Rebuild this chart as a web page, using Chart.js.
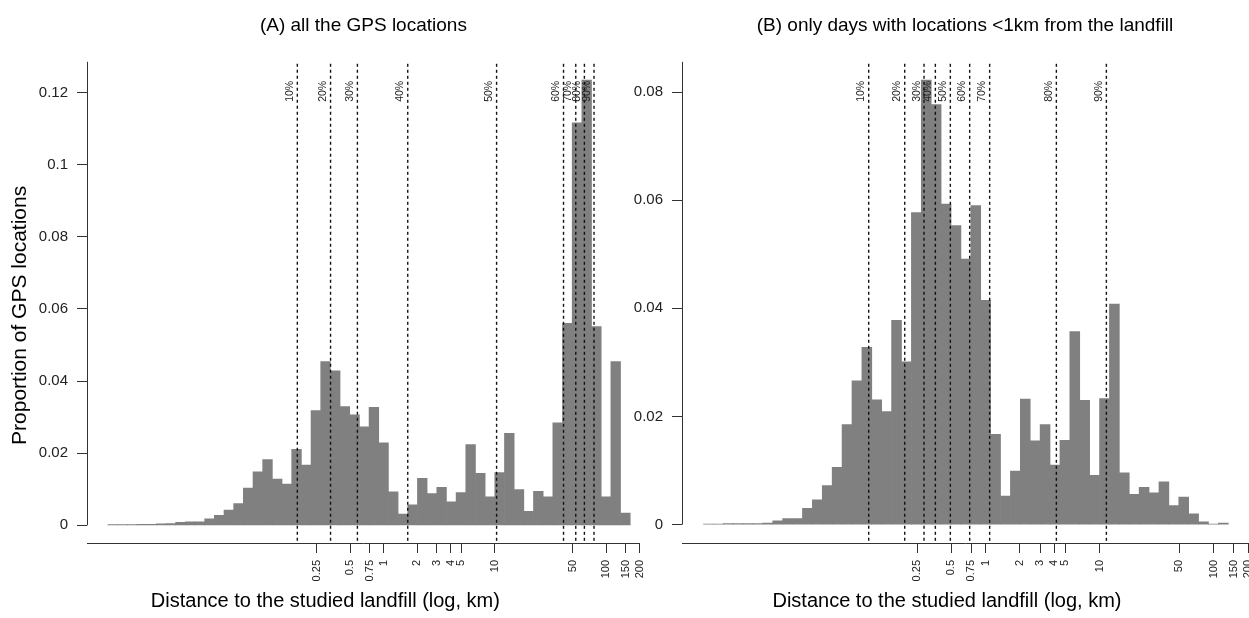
<!DOCTYPE html>
<html>
<head>
<meta charset="utf-8">
<script src="https://cdn.jsdelivr.net/npm/chart.js@4.4.1/dist/chart.umd.min.js"></script>
<style>
  html, body { margin: 0; padding: 0; background: #fff; overflow: hidden; }
  body { width: 1249px; height: 618px; position: relative; }
  .panel { position: absolute; top: 0; }
  #chartA { left: 0; }
  #chartB { left: 600px; }
</style>
</head>
<body>
<canvas id="chartA" class="panel" width="660" height="618"></canvas>
<canvas id="chartB" class="panel" width="714" height="618"></canvas>
<script>
const FONT = '"Liberation Sans", Arial, Helvetica, sans-serif';

// histogram breaks: bins of 0.2 in ln(km), first break at ln = -5.7
const binStartLn = -5.7;
const binWidthLn = 0.2;

// (A) all the GPS locations
const propA = [
  0.0002, 0.0002, 0.0002, 0.0003, 0.0003, 0.0004, 0.0005, 0.0008, 0.0010, 0.0010,
  0.0018, 0.0028, 0.0042, 0.0060, 0.0103, 0.0148, 0.0182, 0.0128, 0.0114, 0.0211,
  0.0167, 0.0318, 0.0454, 0.0428, 0.0329, 0.0306, 0.0273, 0.0327, 0.0229, 0.0093,
  0.0031, 0.0057, 0.0130, 0.0088, 0.0105, 0.0065, 0.0091, 0.0224, 0.0144, 0.0079,
  0.0146, 0.0255, 0.0099, 0.0039, 0.0094, 0.0079, 0.0284, 0.0560, 0.1116, 0.1234,
  0.0551, 0.0079, 0.0454, 0.0034
];

// (B) only days with locations <1km from the landfill
const propB = [
  0.0001, 0.0001, 0.0002, 0.0002, 0.0002, 0.0002, 0.0003, 0.0007, 0.0011, 0.0011,
  0.0030, 0.0046, 0.0072, 0.0106, 0.0185, 0.0266, 0.0328, 0.0231, 0.0209, 0.0378,
  0.0301, 0.0577, 0.0822, 0.0777, 0.0593, 0.0553, 0.0491, 0.0590, 0.0415, 0.0167,
  0.0053, 0.0099, 0.0232, 0.0155, 0.0185, 0.0110, 0.0156, 0.0357, 0.0230, 0.0091,
  0.0233, 0.0408, 0.0096, 0.0056, 0.0069, 0.0059, 0.0079, 0.0035, 0.0051, 0.0020,
  0.0005, 0.0001, 0.0003
];

// distance deciles (km)
const quantileLabels = ['10%', '20%', '30%', '40%', '50%', '60%', '70%', '80%', '90%'];
const quantA = [0.168, 0.334, 0.582, 1.648, 10.35, 41.3, 53.2, 63.6, 77.6];
const quantB = [0.0942, 0.195, 0.288, 0.362, 0.490, 0.724, 1.084, 4.17, 11.45];

const xTicks = [0.25, 0.5, 0.75, 1, 2, 3, 4, 5, 10, 50, 100, 150, 200];
const yTicksA = [0, 0.02, 0.04, 0.06, 0.08, 0.1, 0.12];
const yTicksB = [0, 0.02, 0.04, 0.06, 0.08];

const xTitle = 'Distance to the studied landfill (log, km)';
const yTitle = 'Proportion of GPS locations';

function binCenters(n) {
  const out = [];
  for (let i = 0; i < n; i++) out.push(Math.exp(binStartLn + binWidthLn * (i + 0.5)));
  return out;
}

// dashed decile lines + labels, the y axis line running from 0 to the top,
// and the axis titles (centred like the original figure, not on the plot area)
const quantilePlugin = {
  id: 'quantiles',
  afterDatasetsDraw(chart, args, opts) {
    const { ctx, chartArea, scales: { x, y } } = chart;
    ctx.save();
    ctx.strokeStyle = '#333';
    ctx.lineWidth = 1;
    const ax = Math.round(chartArea.left) + 0.5;
    ctx.beginPath();
    ctx.moveTo(ax, y.getPixelForValue(0));
    ctx.lineTo(ax, chartArea.top);
    ctx.stroke();

    ctx.strokeStyle = '#111';
    ctx.lineWidth = 1.4;
    ctx.setLineDash([3, 3]);
    opts.values.forEach(q => {
      const px = x.getPixelForValue(q);
      ctx.beginPath();
      ctx.moveTo(px, chartArea.top + 2);
      ctx.lineTo(px, chartArea.bottom);
      ctx.stroke();
    });
    ctx.setLineDash([]);

    ctx.font = '10.5px ' + FONT;
    ctx.fillStyle = '#222';
    ctx.textAlign = 'right';
    ctx.textBaseline = 'bottom';
    opts.values.forEach((q, i) => {
      const px = x.getPixelForValue(q);
      ctx.save();
      ctx.translate(px - 2, chartArea.top + 19);
      ctx.rotate(-Math.PI / 2);
      ctx.fillText(quantileLabels[i], 0, 0);
      ctx.restore();
    });

    // axis titles
    ctx.fillStyle = '#000';
    ctx.textAlign = 'center';
    ctx.textBaseline = 'middle';
    ctx.font = '20px ' + FONT;
    ctx.fillText(xTitle, chartArea.left + opts.xTitleShift + chartArea.width / 2, chartArea.bottom + 58);
    if (opts.showYTitle) {
      ctx.font = '21px ' + FONT;
      ctx.save();
      ctx.translate(20, (chartArea.top + chartArea.bottom) / 2 + 13);
      ctx.rotate(-Math.PI / 2);
      ctx.fillText(yTitle, 0, 0);
      ctx.restore();
    }
    ctx.restore();
  }
};

function histogram(id, cfg) {
  const centers = binCenters(cfg.values.length);
  return new Chart(document.getElementById(id), {
    type: 'bar',
    data: {
      datasets: [{
        data: cfg.values.map((v, i) => ({ x: centers[i], y: v })),
        backgroundColor: '#808080',
        borderWidth: 0,
        barPercentage: 1,
        categoryPercentage: 1
      }]
    },
    options: {
      responsive: false,
      animation: false,
      layout: { padding: { left: 0, right: cfg.padRight, top: 0, bottom: 0 } },
      plugins: {
        legend: { display: false },
        tooltip: { enabled: false },
        title: {
          display: true,
          text: cfg.title,
          fullSize: false,
          color: '#000',
          font: { family: FONT, size: 19, weight: 'normal' },
          padding: { top: 14, bottom: 25 }
        },
        quantiles: { values: cfg.quantiles, xTitleShift: cfg.xTitleShift, showYTitle: cfg.showYTitle }
      },
      scales: {
        x: {
          type: 'logarithmic',
          min: 0.00217,
          max: 200,
          offset: false,
          afterBuildTicks: s => { s.ticks = xTicks.map(v => ({ value: v })); },
          afterFit: s => { s.height = 75; },
          grid: { offset: false, drawOnChartArea: false, tickLength: 10, tickColor: '#333' },
          border: { display: true, color: '#333', width: 1 },
          ticks: {
            autoSkip: false, minRotation: 90, maxRotation: 90, padding: 7,
            color: '#222', font: { family: FONT, size: 11 },
            callback: v => String(v)
          }
        },
        y: {
          min: cfg.yMin,
          max: cfg.yMax,
          afterBuildTicks: s => { s.ticks = cfg.yTicks.map(v => ({ value: v })); },
          afterFit: s => { s.width = cfg.yWidth; },
          grid: { drawOnChartArea: false, tickLength: 10, tickColor: '#333' },
          border: { display: false },
          ticks: {
            padding: 9, color: '#222', font: { family: FONT, size: 15 },
            callback: v => String(v)
          }
        }
      }
    },
    plugins: [quantilePlugin]
  });
}

histogram('chartA', {
  title: '(A) all the GPS locations',
  values: propA, quantiles: quantA, yTicks: yTicksA,
  yMin: -0.0049, yMax: 0.1285,
  yWidth: 87, padRight: 17,
  xTitleShift: -38, showYTitle: true
});

histogram('chartB', {
  title: '(B) only days with locations <1km from the landfill',
  values: propB, quantiles: quantB, yTicks: yTicksB,
  yMin: -0.0034, yMax: 0.0856,
  yWidth: 82, padRight: 66,
  xTitleShift: -18, showYTitle: false
});
</script>
</body>
</html>
